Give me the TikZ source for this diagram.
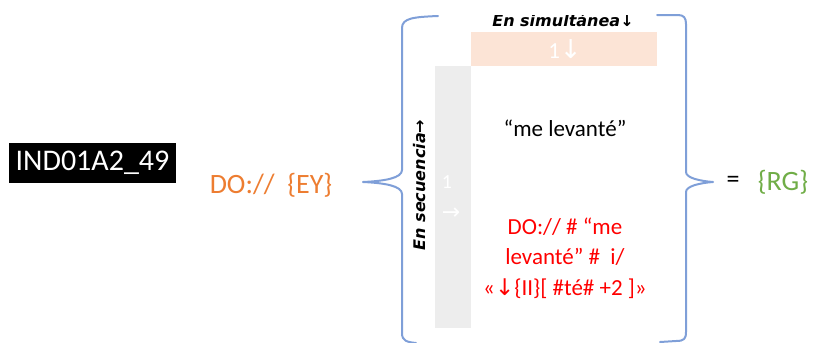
\documentclass[tikz,border=0pt]{standalone}
\usepackage{fontspec}
\setmainfont{Carlito}
\newfontfamily\arrowfont{DejaVu Sans}
\newfontfamily\labelfont{DejaVu Sans}
\definecolor{braceblue}{HTML}{7F9FD8}
\definecolor{codeorange}{HTML}{ED7D31}
\definecolor{codegreen}{HTML}{70AD47}
\definecolor{codered}{HTML}{FF0000}
\definecolor{peachfill}{HTML}{FCE4D6}
\definecolor{greyfill}{HTML}{EDEDED}
\tikzset{
  bracestroke/.style={draw=braceblue, line width=2pt, line join=round, line cap=round},
  txt/.style={inner sep=0pt, anchor=center},
  sizeA/.style={font=\fontsize{30}{32}\selectfont},
  sizeB/.style={font=\fontsize{28}{30}\selectfont},
  sizeC/.style={font=\fontsize{23}{30.5}\selectfont},
  sidelabel/.style={font=\labelfont\bfseries\itshape\fontsize{16}{18}\selectfont, inner sep=0pt},
}
\begin{document}
\begin{tikzpicture}[x=1pt, y=-1pt]
\useasboundingbox (0,0) rectangle (815,343);

% identifier tag
\node[fill=black, text=white, sizeA, inner sep=0pt, minimum width=167pt, minimum height=40pt, anchor=center] (tag) at (92.5,163) {IND01A2\_49};

% source and result codes
\node[txt, sizeB, text=codeorange] (src) at (271,185) {DO://\ \ \{EY\}};
\node[txt, font=\fontsize{26}{28}\selectfont] (eq) at (733,182) {=};
\node[txt, sizeB, text=codegreen] (res) at (783,182) {\{RG\}};

% header bands
\fill[peachfill] (471,32) rectangle (657,66);
\node[txt, text=white, font=\fontsize{23}{25}\selectfont] (simnum) at (565,49) {1{\arrowfont\fontsize{26}{28}\selectfont↓}};
\fill[greyfill] (435,66) rectangle (471,328);
\node[txt, text=white, font=\fontsize{20}{22}\selectfont] (seqnum) at (447,182) {1};
\node[txt, text=white, font=\arrowfont\fontsize{22}{24}\selectfont] (seqarrow) at (451,214) {→};

% axis labels
\begin{scope}
  \clip (480,15) rectangle (650,40);
  \node[sidelabel, anchor=center] (simlabel) at (563,20) {En simultánea{\arrowfont↓}};
\end{scope}
\node[sidelabel, rotate=90, anchor=center] (seqlabel) at (420,185) {En secuencia{\arrowfont→}};

% cell contents
\node[txt, sizeC] (phrase) at (565,128) {“me levanté”};
\node[txt, sizeC, text=codered, align=center] (rule) at (565,258)
  {DO:// \# “me\\levanté” \#\ \ i/\\«{\arrowfont↓}\{II\}[ \#té\# +2 ]»};

% opening and closing braces
\draw[bracestroke] (438,16) .. controls (414,17) and (402,18) .. (402,28) -- (402,170)
  .. controls (402,178) and (385,181) .. (363,182)
  .. controls (385,183) and (402,186) .. (402,194) -- (402,333)
  .. controls (402,341) and (407,342) .. (416,343);
\draw[bracestroke] (657,15) -- (678,15) .. controls (684,15) and (686,18) .. (686,24) -- (686,172)
  .. controls (686,178) and (700,181) .. (713,182)
  .. controls (700,183) and (686,186) .. (686,192) -- (686,332)
  .. controls (686,339) and (684,341) .. (676,341) -- (660,342);
\end{tikzpicture}
\end{document}
